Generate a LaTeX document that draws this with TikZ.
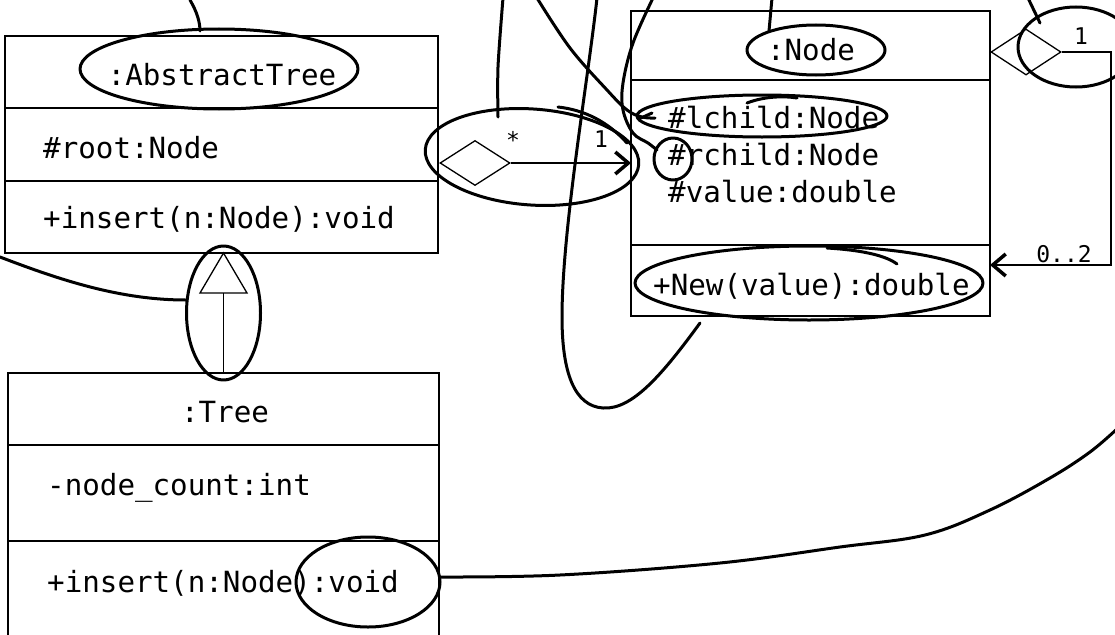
\documentclass[tikz,border=0pt]{standalone}
\usepackage{fontspec}
\newfontfamily\cons{DejaVu Sans Mono}
\usetikzlibrary{arrows.meta,shapes.geometric,calc}
\begin{document}
\begin{tikzpicture}[x=1pt,y=-1pt,
  box/.style={draw, line width=1.3pt, inner sep=0pt, outer sep=0pt},
  txt/.style={anchor=base west, inner sep=0pt, font=\cons\fontsize{29.2}{34}\selectfont},
  ctxt/.style={anchor=base, inner sep=0pt, font=\cons\fontsize{29.2}{34}\selectfont},
  lbl/.style={anchor=base, inner sep=0pt, font=\cons\fontsize{23}{26}\selectfont},
  pen/.style={line width=3pt, line cap=round, line join=round},
  thinline/.style={line width=1.3pt},
  barb/.style={-{Straight Barb[length=13pt,width=22pt,line width=3.5pt]}},
  dia/.style={draw, line width=1.3pt, shape=diamond, fill=white, inner sep=0pt, aspect=1.5}
]
\useasboundingbox (0,0) rectangle (1115,634);
\clip (0,0) rectangle (1115,634);
\fill[white] (0,0) rectangle (1115,634);

% ---- AbstractTree ----
\node[box, minimum width=433pt, minimum height=72pt] (atH) at (221.5,72) {};
\node[box, minimum width=433pt, minimum height=73pt] (atA) at (221.5,144.5) {};
\node[box, minimum width=433pt, minimum height=72pt] (atO) at (221.5,217) {};
\node[ctxt] (atName) at (222,85) {:AbstractTree};
\node[txt] (atRoot) at (43,158) {\#root:Node};
\node[txt] (atIns) at (43,228) {+insert(n:Node):void};

% ---- Tree ----
\node[box, minimum width=431pt, minimum height=72pt] (trH) at (223.5,409) {};
\node[box, minimum width=431pt, minimum height=96pt] (trA) at (223.5,493) {};
\node[box, minimum width=431pt, minimum height=99pt] (trO) at (223.5,590.5) {};
\node[ctxt] (trName) at (225,422) {:Tree};
\node[txt] (trCnt) at (47,495) {-node\_count:int};
\node[txt] (trIns) at (47,592) {+insert(n:Node):void};

% ---- Node ----
\node[box, minimum width=359pt, minimum height=69pt] (ndH) at (810.5,45.5) {};
\node[box, minimum width=359pt, minimum height=165pt] (ndA) at (810.5,162.5) {};
\node[box, minimum width=359pt, minimum height=71pt] (ndO) at (810.5,280.5) {};
\node[ctxt] (ndName) at (811,60) {:Node};
\node[txt] (ndL) at (668,128) {\#lchild:Node};
\node[txt] (ndR) at (668,165) {\#rchild:Node};
\node[txt] (ndV) at (668,202) {\#value:double};
\node[txt] (ndNew) at (653,295) {+New(value):double};

% ---- generalization Tree -> AbstractTree ----
\coordinate (tip) at (223.5,253);
\coordinate (triL) at (200,293);
\coordinate (triR) at (247,293);
\coordinate (triB) at (223.5,293);
\draw[thinline, fill=white] (tip) -- (triR) -- (triL) -- cycle;
\draw[thinline] (triB) -- (triB |- trH.north);

% ---- aggregation AbstractTree -> Node ----
\node[dia, minimum width=70pt, minimum height=45pt] (d1) at (475,163) {};
\draw[thinline, barb] (d1.east) -- (d1.east -| ndA.west);
\node[lbl] (m1) at (513,148) {*};
\node[lbl] (m2) at (601,147) {1};

% ---- self aggregation Node ----
\node[dia, minimum width=70pt, minimum height=46pt] (d2) at (1026,52) {};
\coordinate (s1) at (1111,52);
\coordinate (s2) at (1111,265);
\draw[thinline, barb] (d2.east) -- (s1) -- (s2) -- (s2 -| ndO.east);
\node[lbl] (m3) at (1081,45) {1};
\node[lbl] (m4) at (1064,262) {0..2};

% ---- hand-drawn annotations ----
\draw[pen] (219,69) ellipse [x radius=139pt, y radius=40pt];
\draw[pen] (223.5,313) ellipse [x radius=37pt, y radius=67pt];
\draw[pen] (368,582) ellipse [x radius=72pt, y radius=45pt];
\draw[pen, rotate around={-4:(532,157)}] (532,157) ellipse [x radius=107pt, y radius=48pt];
\draw[pen] (558,107) .. controls (585,110) and (608,122) .. (627,143);
\draw[pen] (816,50) ellipse [x radius=69pt, y radius=25pt];
\draw[pen] (762,116) ellipse [x radius=125pt, y radius=21pt];
\draw[pen] (673,159) ellipse [x radius=19pt, y radius=21pt];
\draw[pen] (809,283) ellipse [x radius=174pt, y radius=37pt];
\draw[pen] (1076,47) ellipse [x radius=58pt, y radius=40pt];

\draw[pen] (190,0) .. controls (197,12) and (200,22) .. (200,31);
\draw[pen] (0,257) .. controls (60,280) and (120,300) .. (186,300);
\draw[pen] plot[smooth, tension=0.6] coordinates {(440,577) (560,575) (720,563) (840,547) (925,535) (990,510) (1050,478) (1090,452) (1118,428)};
\draw[pen] (700,323) .. controls (662,375) and (632,410) .. (603,408)
  .. controls (574,406) and (562,372) .. (562,317)
  .. controls (562,230) and (588,80) .. (597,-2);
\draw[pen] plot[smooth] coordinates {(503,-2) (498,67) (498,117)};
\draw[pen] plot[smooth, tension=0.6] coordinates {(537,-2) (570,48) (607,90) (627,110) (642,117) (655,118)};
\draw[pen] (641,118) -- (652,113);
\draw[pen] plot[smooth, tension=0.6] coordinates {(653,-2) (633,43) (623,83) (623,110) (633,133) (648,143) (657,150)};
\draw[pen] (772,-2) -- (769,31);
\draw[pen] (1028,-2) -- (1040,23);
\draw[pen] (747,103) .. controls (765,96) and (785,96) .. (797,98);
\draw[pen] (827,248) .. controls (860,250) and (885,255) .. (897,264);
\end{tikzpicture}
\end{document}
